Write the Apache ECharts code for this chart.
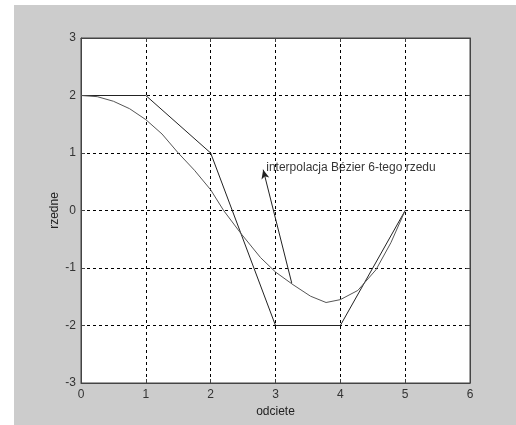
<!DOCTYPE html>
<html>
<head>
<meta charset="utf-8">
<script src="https://cdn.jsdelivr.net/npm/echarts@6/dist/echarts.min.js"></script>
<style>
html,body{margin:0;padding:0;background:#fff;}
#bg{position:absolute;left:14px;top:5px;width:502px;height:420px;background:#cccccc;}
#chart{position:absolute;left:0;top:0;width:516px;height:425px;}
</style>
</head>
<body>
<div id="bg"></div>
<div id="chart"></div>
<script>
// control polygon
const ctrlX = [0, 1, 2, 3, 4, 5];
const ctrlY = [2, 2, 1, -2, -2, 0];
// interpolated curve
const curveX = [0, 0.25, 0.5, 0.75, 1, 1.25, 1.5, 1.75, 2, 2.2, 2.46, 2.77, 3.0, 3.27, 3.54, 3.78, 4.0, 4.27, 4.55, 4.78, 5.0];
const curveY = [2, 1.98, 1.9, 1.77, 1.58, 1.33, 1.0, 0.70, 0.36, 0.0, -0.39, -0.82, -1.07, -1.29, -1.49, -1.60, -1.55, -1.39, -1.03, -0.56, 0.0];
// annotation
const annotText = 'interpolacja Bézier 6-tego rzedu';
const arrowFrom = [3.25, -1.26];
const arrowTo = [2.81, 0.71];
const textPos = [2.85, 0.74];
const xTicks = [0, 1, 2, 3, 4, 5, 6];
const yTicks = [-3, -2, -1, 0, 1, 2, 3];

const font = '"Liberation Sans", Arial, sans-serif';
const chart = echarts.init(document.getElementById('chart'));
const zip = (a, b) => a.map((v, i) => [v, b[i]]);

const gridDash = {show: true, lineStyle: {color: '#000', type: [3, 3], width: 1}};
const frame = {show: true, onZero: false, lineStyle: {color: '#444', width: 1}};
const ticks = {show: true, inside: true, length: 4, lineStyle: {color: '#444'}};

chart.setOption({
  animation: false,
  grid: {left: 81, right: 46, top: 38, bottom: 42, show: true, backgroundColor: '#fff', borderColor: '#444', borderWidth: 1},
  xAxis: [{
    type: 'value', min: xTicks[0], max: xTicks[xTicks.length - 1], interval: 1,
    name: 'odciete', nameLocation: 'middle', nameGap: 23, nameMoveOverlap: false,
    nameTextStyle: {fontFamily: font, fontSize: 12, color: '#222'},
    axisLine: frame, axisTick: ticks,
    axisLabel: {fontFamily: font, fontSize: 12, color: '#333', margin: 6},
    splitLine: gridDash
  }, {
    type: 'value', position: 'top', min: xTicks[0], max: xTicks[xTicks.length - 1], interval: 1,
    axisLine: frame, axisTick: ticks,
    axisLabel: {show: false}, splitLine: {show: false}
  }],
  yAxis: [{
    type: 'value', min: yTicks[0], max: yTicks[yTicks.length - 1], interval: 1,
    name: 'rzedne', nameLocation: 'middle', nameGap: 20, nameRotate: 90, nameMoveOverlap: false,
    nameTextStyle: {fontFamily: font, fontSize: 12, color: '#222'},
    axisLine: frame, axisTick: ticks,
    axisLabel: {fontFamily: font, fontSize: 12, color: '#333', margin: 5},
    splitLine: gridDash
  }, {
    type: 'value', position: 'right', min: yTicks[0], max: yTicks[yTicks.length - 1], interval: 1,
    axisLine: frame, axisTick: ticks,
    axisLabel: {show: false}, splitLine: {show: false}
  }],
  series: [{
    type: 'line', data: zip(ctrlX, ctrlY), showSymbol: false, symbol: 'none',
    lineStyle: {color: '#222', width: 1}
  }, {
    type: 'line', data: zip(curveX, curveY), showSymbol: false, symbol: 'none',
    lineStyle: {color: '#555', width: 1},
    markLine: {
      silent: true, symbol: ['none', 'arrow'], symbolSize: [6, 9],
      lineStyle: {color: '#222', width: 1, type: 'solid'},
      label: {show: false},
      data: [[{coord: arrowFrom}, {coord: arrowTo}]]
    }
  }, {
    type: 'scatter', data: [textPos], symbolSize: 1, itemStyle: {color: 'rgba(0,0,0,0)'},
    label: {show: true, position: 'right', distance: 0, formatter: annotText,
      fontFamily: font, fontSize: 12, color: '#000'}
  }]
});
</script>
</body>
</html>
